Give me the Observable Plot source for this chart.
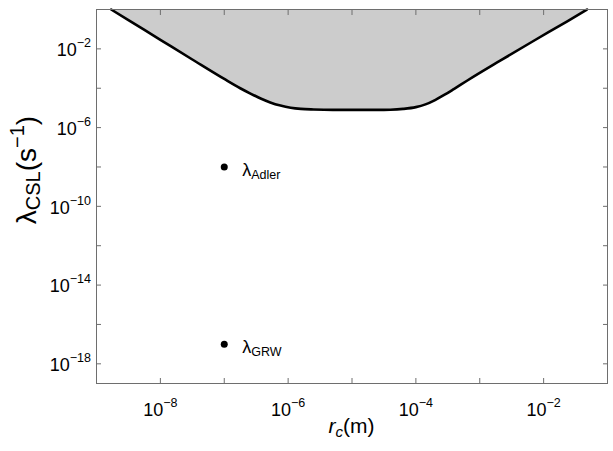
<!DOCTYPE html>
<html><head><meta charset="utf-8">
<script src="https://cdn.jsdelivr.net/npm/d3@7"></script>
<script src="https://cdn.jsdelivr.net/npm/@observablehq/plot@0.6"></script>
<style>
body{margin:0;background:#fff;}
g[aria-label$="axis tick"]{stroke:#6e6e6e;}
</style>
</head><body><div id="chart"></div>
<script>
// Boundary of the excluded (grey) region: log10(r_c / m) and log10(lambda_CSL / s^-1)
const boundLogRc     = [-8.77, -8.5, -8.0, -7.5, -7.0, -6.75, -6.59, -6.43, -6.28, -6.12, -5.96, -5.8, -5.6, -5.3, -5.0, -4.6, -4.4, -4.2, -4.0, -3.85, -3.7, -3.55, -3.4, -3.2, -2.68, -2.16, -1.63, -1.32];
const boundLogLambda = [0.0, -0.54, -1.54, -2.54, -3.53, -4.0, -4.27, -4.52, -4.72, -4.88, -4.99, -5.05, -5.08, -5.1, -5.1, -5.1, -5.09, -5.05, -4.96, -4.82, -4.6, -4.33, -4.03, -3.62, -2.6, -1.6, -0.6, 0.0];

// Theoretical proposals
const pointNames     = ["Adler", "GRW"];
const pointLogRc     = [-7, -7];
const pointLogLambda = [-8, -17];

// Axes
const xDomainExps = [-9, -1];
const yDomainExps = [-19, 0];
const xTickExps  = [-8, -7, -6, -5, -4, -3, -2];
const xLabelExps = [-8, -6, -4, -2];
const yTickExps  = [-2, -4, -6, -8, -10, -12, -14, -16, -18];
const yLabelExps = [-2, -6, -10, -14, -18];

const topLam = 10 ** yDomainExps[1];
const bound = boundLogRc.map((r, i) => ({rc: 10 ** r, lam: 10 ** boundLogLambda[i], top: topLam}));
const pts = pointNames.map((n, i) => ({name: n, rc: 10 ** pointLogRc[i], lam: 10 ** pointLogLambda[i]}));

const fmt = labels => d => {
  const e = Math.round(Math.log10(d));
  return labels.includes(e) ? "10^" + String(e).replace("-", "\u2212") : "";
};
const blank = () => "";

const FONT = "'Liberation Sans', Arial, sans-serif";

const chart = Plot.plot({
  width: 613, height: 451,
  marginLeft: 96, marginRight: 6, marginTop: 9, marginBottom: 68,
  style: {fontFamily: FONT, fontSize: "18px", background: "#fff", color: "#000", overflow: "visible"},
  x: {type: "log", domain: xDomainExps.map(e => 10 ** e)},
  y: {type: "log", domain: yDomainExps.map(e => 10 ** e)},
  marks: [
    Plot.areaY(bound, {x: "rc", y1: "lam", y2: "top", fill: "#cccccc", curve: "monotone-x"}),
    Plot.line(bound, {x: "rc", y: "lam", stroke: "#000", strokeWidth: 2.6, curve: "monotone-x"}),
    Plot.frame({stroke: "#6e6e6e"}),
    Plot.axisX({ticks: xTickExps.map(e => 10 ** e), tickSize: -5, tickPadding: 24.7, tickFormat: fmt(xLabelExps), label: null}),
    Plot.axisX({anchor: "top", ticks: xTickExps.map(e => 10 ** e), tickSize: -5, tickFormat: blank, label: null}),
    Plot.axisY({ticks: yTickExps.map(e => 10 ** e), tickSize: -5, tickPadding: 10.5, tickFormat: fmt(yLabelExps), label: null}),
    Plot.axisY({anchor: "right", ticks: yTickExps.map(e => 10 ** e), tickSize: -5, tickFormat: blank, label: null}),
    Plot.dot(pts, {x: "rc", y: "lam", r: 3.5, fill: "#000"}),
    Plot.text(pts, {x: "rc", y: "lam", text: d => "\u03bb|" + d.name, textAnchor: "start", dx: 18, dy: 3.5, fontSize: 18})
  ]
});

const svg = d3.select(chart);

// superscripts in tick labels
svg.selectAll('g[aria-label="x-axis tick label"] text, g[aria-label="y-axis tick label"] text').each(function () {
  const m = this.textContent.match(/^10\^(.+)$/);
  if (!m) return;
  this.textContent = "";
  const t = d3.select(this);
  t.append("tspan").text("10");
  t.append("tspan").attr("dy", -9).attr("font-size", 12.5).text(m[1]);
});
svg.selectAll('g[aria-label="y-axis tick label"] text').attr("dy", 1.5);

// subscripts in point labels
svg.selectAll('g[aria-label="text"] text').each(function () {
  const parts = this.textContent.split("|");
  if (parts.length !== 2) return;
  this.textContent = "";
  const t = d3.select(this);
  t.append("tspan").text(parts[0]);
  t.append("tspan").attr("dy", 3).attr("font-size", 12.5).text(parts[1]);
});

// x-axis title: r_c(m)
const xt = svg.append("text")
  .attr("x", (96 + 607) / 2).attr("y", 432.5)
  .attr("text-anchor", "middle").attr("font-family", FONT).attr("font-size", 21).attr("fill", "#000");
xt.append("tspan").attr("font-style", "italic").text("r");
xt.append("tspan").attr("font-style", "italic").attr("font-size", 15).attr("dy", 4).text("c");
xt.append("tspan").attr("dy", -4).text("(m)");

// y-axis title: lambda_CSL(s^-1)
const yt = svg.append("text")
  .attr("transform", "translate(36,170) rotate(-90)")
  .attr("text-anchor", "middle").attr("font-family", FONT).attr("font-size", 28).attr("fill", "#000");
yt.append("tspan").text("\u03bb");
yt.append("tspan").attr("font-size", 20).attr("dy", 4).text("CSL");
yt.append("tspan").attr("dy", -4).text("(s");
yt.append("tspan").attr("font-size", 20).attr("dy", -12).text("\u22121");
yt.append("tspan").attr("dy", 12).text(")");

document.getElementById("chart").appendChild(chart);
</script>
</body></html>
